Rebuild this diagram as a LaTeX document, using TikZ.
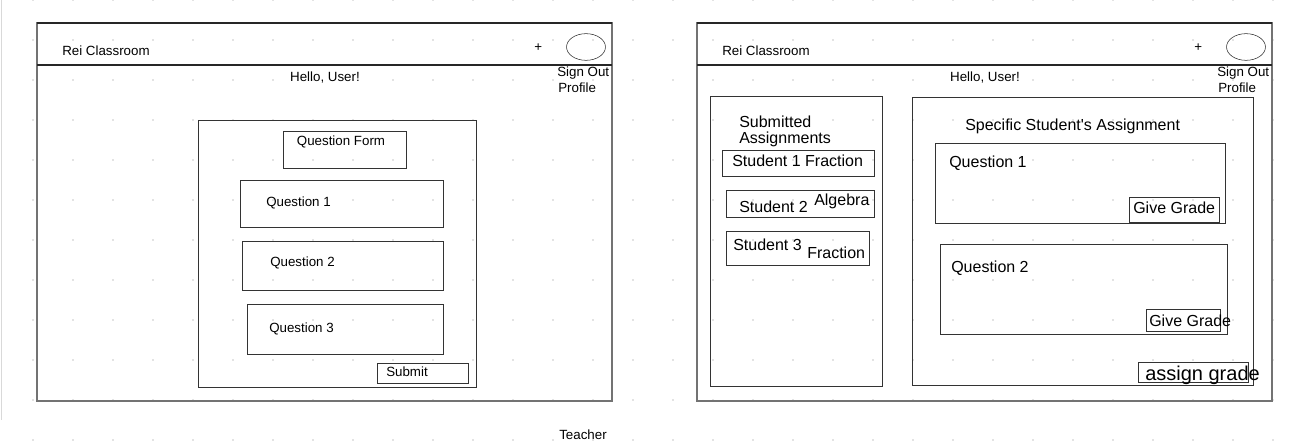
\documentclass[tikz,border=0pt]{standalone}
\usepackage{fontspec}
\setmainfont{Liberation Sans}
\usetikzlibrary{positioning}

\begin{document}
\begin{tikzpicture}[x=0.75pt,y=-0.75pt,
  frame/.style={draw=black!55,line width=1pt},
  bar/.style={draw=black!85,line width=1pt},
  box/.style={draw=black!80,line width=0.75pt},
  txt/.style={inner sep=0pt,text depth=0pt,anchor=west,font=\fontsize{10}{12}\selectfont},
  big/.style={txt,font=\fontsize{12}{14}\selectfont}]
  \useasboundingbox (0,0) rectangle (1289,441);

  % dotted canvas
  \foreach \i in {0,...,31} {
    \foreach \j in {0,...,11} {
      \fill[black!22] (33+40*\i,40*\j) circle (0.7pt);
    }
  }
  \draw[black!15] (1,0) -- (1,420);

  % both screens share the same header
  \foreach \dx/\p in {0/L,660/R} {
    \draw[frame] (37+\dx,23) rectangle (612+\dx,401);
    \draw[bar] (37+\dx,23) -- (612+\dx,23);
    \draw[bar] (37+\dx,65) -- (612+\dx,65);
    \node[txt] (rei\p) at (62+\dx,51) {Rei Classroom};
    \node[txt] (plus\p) at (534+\dx,48) {+};
    \draw[black!85] (586+\dx,47) ellipse (14.6pt and 10pt);
    \node[txt] (signout\p) at (557+\dx,72) {Sign Out};
    \node[txt] (profile\p) at (558+\dx,88) {Profile};
    \node[txt,anchor=center] (hello\p) at (325+\dx,77) {Hello, User!};
  }

  % teacher: question form
  \draw[box] (198,121) rectangle (476,388);
  \draw[box] (283,132) rectangle (406,169);
  \node[txt,anchor=center] (qform) at (341,141) {Question Form};
  \foreach \n/\xa/\ya/\yb/\tx/\ty in {1/240/181/228/266/202, 2/242/242/291/270/262, 3/247/305/355/269/328} {
    \draw[box] (\xa,\ya) rectangle (443,\yb);
    \node[txt] (lq\n) at (\tx,\ty) {Question \n};
  }
  \draw[box] (377,364) rectangle (468,384);
  \node[txt] (submit) at (386,372) {Submit};
  \node[txt] (teacher) at (559,435) {Teacher};

  % teacher: grading screen
  \draw[box] (710,97) rectangle (882,387);
  \node[big] (subm) at (739,122) {Submitted};
  \node[big] (assig) at (739,138) {Assignments};
  \draw[box] (722,151) rectangle (874,177);
  \node[big] (st1) at (732,161) {Student 1 Fraction};
  \draw[box] (726,191) rectangle (874,218);
  \node[big] (st2) at (739,207) {Student 2};
  \node[big] (alg) at (814,200) {Algebra};
  \draw[box] (726,232) rectangle (869,266);
  \node[big] (st3) at (733,245) {Student 3};
  \node[big] (frac) at (807,253) {Fraction};

  \draw[box] (912,98) rectangle (1253,386);
  \node[big] (spec) at (965,125) {Specific Student\textquotesingle s Assignment};
  \draw[box] (935,144) rectangle (1225,224);
  \node[big] (rq1) at (949,162) {Question 1};
  \draw[box] (1129,198) rectangle (1219,223);
  \node[big] (grade1) at (1133,208) {Give Grade};
  \draw[box] (940,245) rectangle (1227,335);
  \node[big] (rq2) at (951,267) {Question 2};
  \draw[box] (1146,310) rectangle (1220,332);
  \node[big] (grade2) at (1149,321) {Give Grade};
  \draw[box] (1138,363) rectangle (1248,383);
  \node[txt,font=\fontsize{15}{17}\selectfont] (assign) at (1145,373) {assign grade};
\end{tikzpicture}
\end{document}
